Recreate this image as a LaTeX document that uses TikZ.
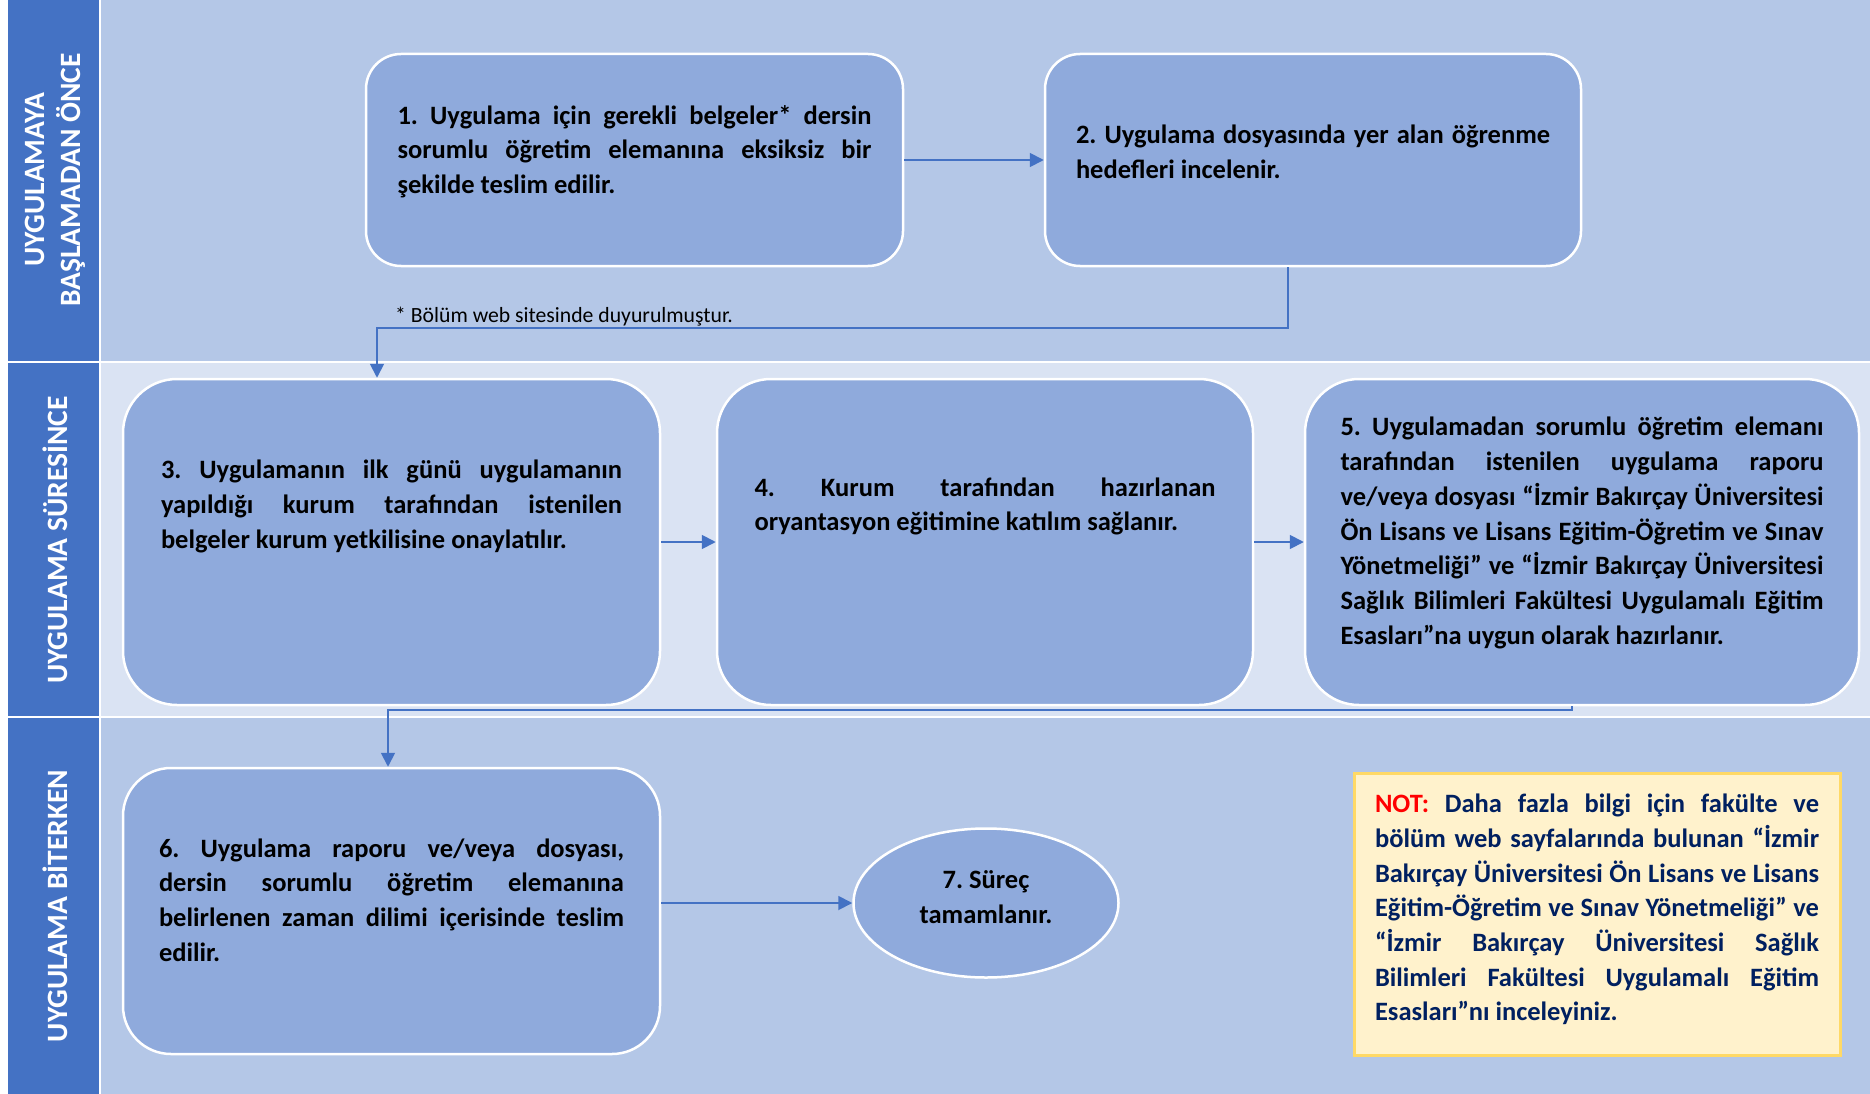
\documentclass[tikz,border=0pt]{standalone}
\usepackage{fontspec}
\setmainfont{Carlito}
\usetikzlibrary{arrows.meta,shapes.geometric}
\definecolor{lanehead}{HTML}{4472C4}
\definecolor{laneA}{HTML}{B4C7E7}
\definecolor{laneB}{HTML}{DAE3F3}
\definecolor{stepfill}{HTML}{8FAADC}
\definecolor{notefill}{HTML}{FFF2CC}
\definecolor{notedraw}{HTML}{FFD966}
\definecolor{notetext}{HTML}{002060}
\frenchspacing
\newcommand{\stepsize}{\fontsize{26.5}{34.7}\selectfont}
\newcommand{\nohyph}{\hyphenpenalty=10000\exhyphenpenalty=10000\relax}
\tikzset{
  stepbox/.style={draw=white, line width=2.5pt, fill=stepfill, rounded corners=#1, inner sep=0pt},
  steptext/.style={text width=#1, align=justify, inner sep=0pt, font=\bfseries\stepsize\nohyph},
  lanelabel/.style={rotate=90, text=white, align=center, font=\bfseries\fontsize{29.5}{36}\selectfont},
  link/.style={draw=lanehead, line width=1.8pt, -{Triangle[length=14pt,width=14pt]}},
}
\begin{document}
\begin{tikzpicture}[x=1pt,y=-1pt]
\useasboundingbox (0,0) rectangle (1870,1094);
\fill[laneA] (101,0) rectangle (1870,361);
\fill[laneB] (101,363) rectangle (1870,716);
\fill[laneA] (101,718) rectangle (1870,1094);
\fill[lanehead] (8,0) rectangle (99,361);
\fill[lanehead] (8,363) rectangle (99,716);
\fill[lanehead] (8,718) rectangle (99,1094);
\node[lanelabel] (lane1) at (55,180) {UYGULAMAYA\\BAŞLAMADAN ÖNCE};
\node[lanelabel] (lane2) at (55,540) {UYGULAMA SÜRESİNCE};
\node[lanelabel] (lane3) at (55,906) {UYGULAMA BİTERKEN};

\node[stepbox=35pt, minimum width=537pt, minimum height=212pt] (b1) at (634.5,160) {};
\node[stepbox=35pt, minimum width=536pt, minimum height=212pt] (b2) at (1313,160) {};
\node[stepbox=54pt, minimum width=537pt, minimum height=326pt] (b3) at (391.5,542) {};
\node[stepbox=54pt, minimum width=536pt, minimum height=326pt] (b4) at (985,542) {};
\node[stepbox=54pt, minimum width=554pt, minimum height=326pt] (b5) at (1582,542) {};
\node[stepbox=48pt, minimum width=537pt, minimum height=286pt] (b6) at (391.5,911) {};
\node[ellipse, draw=white, line width=2.5pt, fill=stepfill, minimum width=265pt, minimum height=149pt] (s7) at (986,903) {};
\node[draw=notedraw, line width=3pt, fill=notefill, minimum width=486pt, minimum height=282pt] (note) at (1597,914) {};

\node[steptext=474pt, yshift=8.5pt] (t1) at (b1) {1. Uygulama için gerekli belgeler* dersin\linebreak sorumlu öğretim elemanına eksiksiz bir\linebreak şekilde teslim edilir.};
\node[steptext=474pt, yshift=8pt] (t2) at (b2) {2. Uygulama dosyasında yer alan öğrenme\linebreak hedefleri incelenir.};
\node[steptext=461pt, yshift=35.5pt] (t3) at (b3) {3. Uygulamanın ilk günü uygulamanın\linebreak yapıldığı kurum tarafından istenilen\linebreak belgeler kurum yetkilisine onaylatılır.};
\node[steptext=461pt, yshift=35.5pt] (t4) at (b4) {4. Kurum tarafından hazırlanan\linebreak oryantasyon eğitimine katılım sağlanır.};
\node[steptext=483pt, yshift=9pt] (t5) at (b5) {5. Uygulamadan sorumlu öğretim elemanı\linebreak tarafından istenilen uygulama raporu\linebreak ve/veya dosyası “İzmir Bakırçay Üniversitesi\linebreak Ön Lisans ve Lisans Eğitim-Öğretim ve Sınav\linebreak Yönetmeliği” ve “İzmir Bakırçay Üniversitesi\linebreak Sağlık Bilimleri Fakültesi Uygulamalı Eğitim\linebreak Esasları”na uygun olarak hazırlanır.};
\node[steptext=465pt, yshift=11pt] (t6) at (b6) {6. Uygulama raporu ve/veya dosyası,\linebreak dersin sorumlu öğretim elemanına\linebreak belirlenen zaman dilimi içerisinde teslim\linebreak edilir.};
\node[align=center, inner sep=0pt, font=\bfseries\stepsize, yshift=6pt] (t7) at (s7) {7. Süreç\\tamamlanır.};
\node[steptext=444pt, yshift=4.5pt, text=notetext] (t8) at (note) {{\color{red}NOT:} Daha fazla bilgi için fakülte ve\linebreak bölüm web sayfalarında bulunan “İzmir\linebreak Bakırçay Üniversitesi Ön Lisans ve Lisans\linebreak Eğitim-Öğretim ve Sınav Yönetmeliği” ve\linebreak “İzmir Bakırçay Üniversitesi Sağlık\linebreak Bilimleri Fakültesi Uygulamalı Eğitim\linebreak Esasları”nı inceleyiniz.};
\node[anchor=west, inner sep=0pt, font=\fontsize{21.7}{26}\selectfont] (fn) at (395,317) {* Bölüm web sitesinde duyurulmuştur.};

\coordinate (c1) at (1288,328);
\coordinate (c2) at (377,328);
\coordinate (c3) at (1572,710);
\coordinate (c4) at (388,710);
\draw[link] (b1.east) -- (b2.west);
\draw[link] (c1 |- b2.south) -- (c1) -- (c2) -- (c2 |- b3.north);
\draw[link] (b3.east) -- (b4.west);
\draw[link] (b4.east) -- (b5.west);
\draw[link] (c3 |- b5.south) -- (c3) -- (c4) -- (c4 |- b6.north);
\draw[link] (b6.east |- s7.west) -- (s7.west);
\end{tikzpicture}
\end{document}
